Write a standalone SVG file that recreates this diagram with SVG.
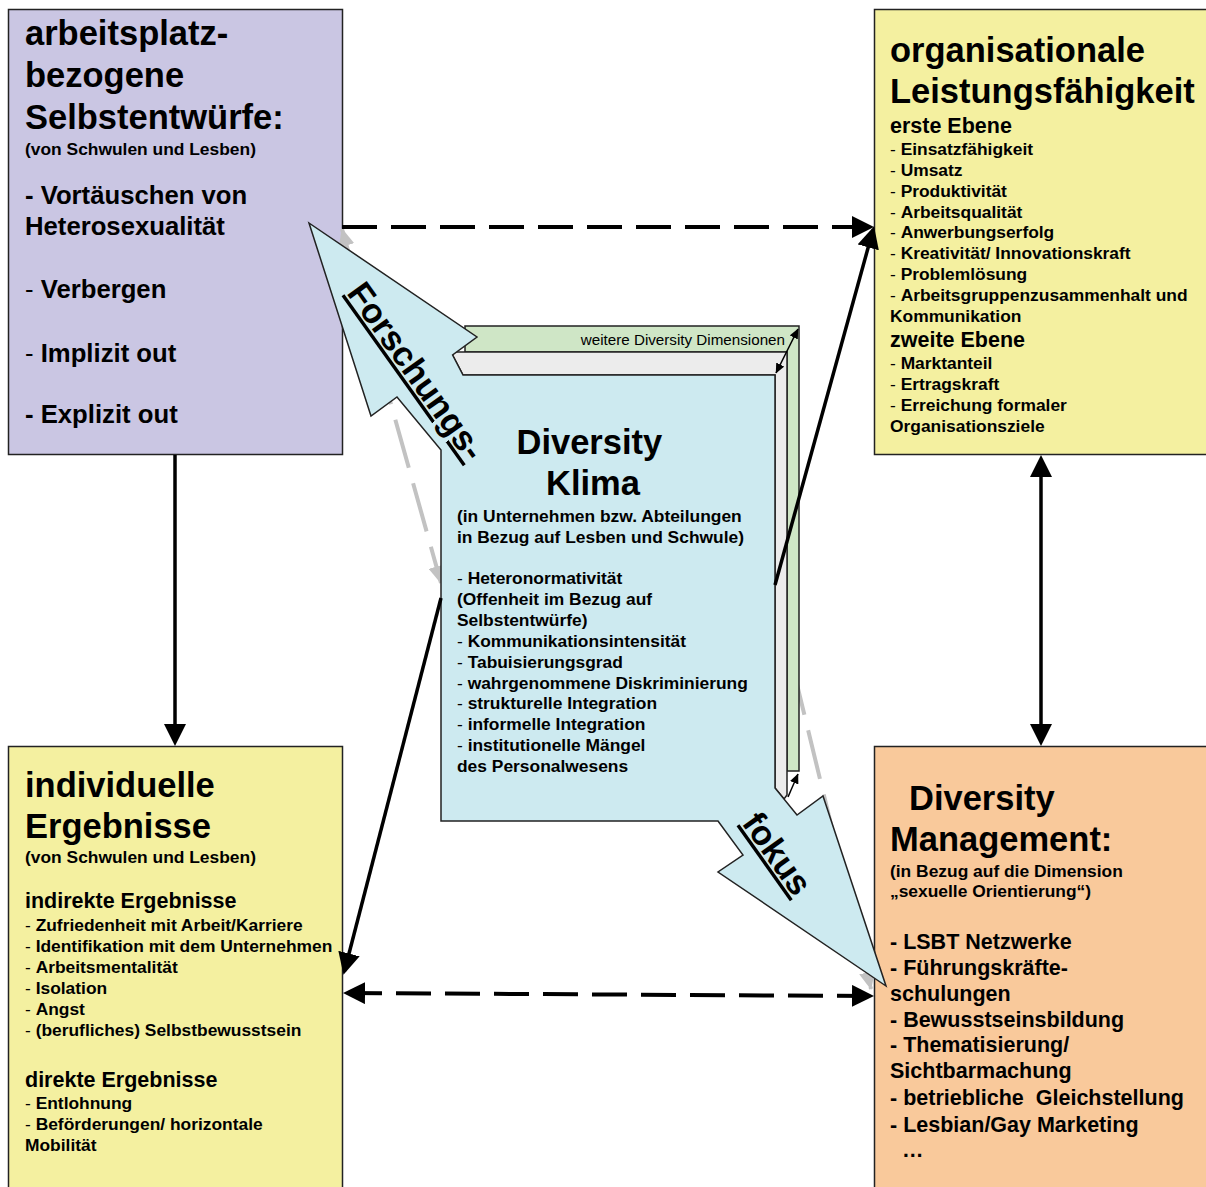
<svg xmlns="http://www.w3.org/2000/svg" width="1206" height="1187" viewBox="0 0 1206 1187">
<defs>
<style>
text{font-family:"Liberation Sans",Arial,Helvetica,sans-serif;font-weight:bold;fill:#000}
.n{font-weight:normal}
.box{stroke:#222;stroke-width:1.5}
.t{font-size:34.5px}
.s{font-size:17.4px}
.m{font-size:21.5px}
.l{font-size:25.7px}
.r{font-size:21.5px}
.w{font-size:15.2px;font-weight:normal}
.conn{fill:none;stroke:#000;stroke-width:3.5}
.dash{stroke-width:4;stroke-dasharray:35 14}
.grey{fill:none;stroke:#c2c2c2;stroke-width:4;stroke-dasharray:50 16}
.thin{fill:none;stroke:#000;stroke-width:1.5}
.rot{font-size:34.5px;text-decoration:underline}
</style>
<marker id="ah" viewBox="0 0 22 22" refX="18" refY="11" markerWidth="22" markerHeight="22" markerUnits="userSpaceOnUse" orient="auto-start-reverse"><path d="M0,0 L22,11 L0,22 z" fill="#000"/></marker>
<marker id="ag" viewBox="0 0 18 16" refX="17" refY="8" markerWidth="18" markerHeight="16" markerUnits="userSpaceOnUse" orient="auto-start-reverse"><path d="M0,0 L18,8 L0,16 z" fill="#c2c2c2"/></marker>
<marker id="as" viewBox="0 0 10 9" refX="9.5" refY="4.5" markerWidth="10" markerHeight="9" markerUnits="userSpaceOnUse" orient="auto-start-reverse"><path d="M0,0 L10,4.5 L0,9 z" fill="#000"/></marker>
</defs>
<rect x="0" y="0" width="1206" height="1187" fill="#fff"/>

<g id="node-selbstentwuerfe">
<rect class="box" x="8.5" y="9.5" width="334" height="445" fill="#cac6e3"/>
<text class="t" x="25" y="45">arbeitsplatz-</text>
<text class="t" x="25" y="87">bezogene</text>
<text class="t" x="25" y="129">Selbstentwürfe:</text>
<text class="s" x="25" y="155">(von Schwulen und Lesben)</text>
<text class="l" x="25" y="204">- Vortäuschen von</text>
<text class="l" x="25" y="235">Heterosexualität</text>
<text class="l" x="25" y="298"><tspan class="n">- </tspan>Verbergen</text>
<text class="l" x="25" y="362"><tspan class="n">- </tspan>Implizit out</text>
<text class="l" x="25" y="423">- Explizit out</text>
</g>

<g id="node-leistung">
<rect class="box" x="874.5" y="9.5" width="345" height="445" fill="#f4f0a0"/>
<text class="t" x="890" y="62">organisationale</text>
<text class="t" x="890" y="103">Leistungsfähigkeit</text>
<text class="m" x="890" y="133">erste Ebene</text>
<text class="s" x="890" y="155"><tspan class="n">- </tspan>Einsatzfähigkeit</text>
<text class="s" x="890" y="176"><tspan class="n">- </tspan>Umsatz</text>
<text class="s" x="890" y="197"><tspan class="n">- </tspan>Produktivität</text>
<text class="s" x="890" y="217.5"><tspan class="n">- </tspan>Arbeitsqualität</text>
<text class="s" x="890" y="238"><tspan class="n">- </tspan>Anwerbungserfolg</text>
<text class="s" x="890" y="259"><tspan class="n">- </tspan>Kreativität/ Innovationskraft</text>
<text class="s" x="890" y="280"><tspan class="n">- </tspan>Problemlösung</text>
<text class="s" x="890" y="301"><tspan class="n">- </tspan>Arbeitsgruppenzusammenhalt und</text>
<text class="s" x="890" y="322">Kommunikation</text>
<text class="m" x="890" y="346.5">zweite Ebene</text>
<text class="s" x="890" y="368.5"><tspan class="n">- </tspan>Marktanteil</text>
<text class="s" x="890" y="389.5"><tspan class="n">- </tspan>Ertragskraft</text>
<text class="s" x="890" y="410.5"><tspan class="n">- </tspan>Erreichung formaler</text>
<text class="s" x="890" y="431.5">Organisationsziele</text>
</g>

<g id="node-individuell">
<rect class="box" x="8.5" y="746.5" width="334" height="460" fill="#f4f0a0"/>
<text class="t" x="25" y="797">individuelle</text>
<text class="t" x="25" y="837.5">Ergebnisse</text>
<text class="s" x="25" y="863">(von Schwulen und Lesben)</text>
<text class="m" x="25" y="908">indirekte Ergebnisse</text>
<text class="s" x="25" y="930.5"><tspan class="n">- </tspan>Zufriedenheit mit Arbeit/Karriere</text>
<text class="s" x="25" y="951.5"><tspan class="n">- </tspan>Identifikation mit dem Unternehmen</text>
<text class="s" x="25" y="972.5"><tspan class="n">- </tspan>Arbeitsmentalität</text>
<text class="s" x="25" y="994"><tspan class="n">- </tspan>Isolation</text>
<text class="s" x="25" y="1015"><tspan class="n">- </tspan>Angst</text>
<text class="s" x="25" y="1036"><tspan class="n">- </tspan>(berufliches) Selbstbewusstsein</text>
<text class="m" x="25" y="1087">direkte Ergebnisse</text>
<text class="s" x="25" y="1109"><tspan class="n">- </tspan>Entlohnung</text>
<text class="s" x="25" y="1130"><tspan class="n">- </tspan>Beförderungen/ horizontale</text>
<text class="s" x="25" y="1151">Mobilität</text>
</g>

<g id="node-management">
<rect class="box" x="874.5" y="746.5" width="345" height="460" fill="#f9c99b"/>
<text class="t" x="909" y="810">Diversity</text>
<text class="t" x="890" y="851">Management:</text>
<text class="s" x="890" y="876.5">(in Bezug auf die Dimension</text>
<text class="s" x="890" y="897">„sexuelle Orientierung“)</text>
<text class="r" x="890" y="948.5">- LSBT Netzwerke</text>
<text class="r" x="890" y="975">- Führungskräfte-</text>
<text class="r" x="890" y="1000.5">schulungen</text>
<text class="r" x="890" y="1026.5">- Bewusstseinsbildung</text>
<text class="r" x="890" y="1052">- Thematisierung/</text>
<text class="r" x="890" y="1078">Sichtbarmachung</text>
<text class="r" x="890" y="1105" style="white-space:pre">- betriebliche  Gleichstellung</text>
<text class="r" x="890" y="1131.5">- Lesbian/Gay Marketing</text>
<text class="r" x="902" y="1157">…</text>
</g>

<g id="connectors-behind">
<line class="grey" x1="342" y1="229" x2="441" y2="583" marker-start="url(#ag)" marker-end="url(#ag)"/>
<line class="grey" x1="777" y1="602" x2="871" y2="989" marker-start="url(#ag)" marker-end="url(#ag)"/>
</g>

<g id="node-klima">
<polygon class="box" points="465,326 799,326 799,771 787,771 787,352 465,352" fill="#cfe6c6"/>
<polygon class="box" points="451,352 787,352 787,795 784,799 775,788 775,375 463,375" fill="#ececec"/>
<polygon class="box" points="309,223 477,337 452.6,355 463,375 775,375 775,788 797,815 823,796 886,986 718,872 743,855 718,821 441,821 441,450 397,397 371,416" fill="#cdeaf0"/>
<text class="w" x="785" y="344.5" text-anchor="end">weitere Diversity Dimensionen</text>
<text class="t" x="516.5" y="453.5">Diversity</text>
<text class="t" x="546" y="495">Klima</text>
<text class="s" x="457" y="521.5">(in Unternehmen bzw. Abteilungen</text>
<text class="s" x="457" y="542.5">in Bezug auf Lesben und Schwule)</text>
<text class="s" x="457" y="584"><tspan class="n">- </tspan>Heteronormativität</text>
<text class="s" x="457" y="605">(Offenheit im Bezug auf</text>
<text class="s" x="457" y="626">Selbstentwürfe)</text>
<text class="s" x="457" y="646.5"><tspan class="n">- </tspan>Kommunikationsintensität</text>
<text class="s" x="457" y="667.5"><tspan class="n">- </tspan>Tabuisierungsgrad</text>
<text class="s" x="457" y="688.5"><tspan class="n">- </tspan>wahrgenommene Diskriminierung</text>
<text class="s" x="457" y="709"><tspan class="n">- </tspan>strukturelle Integration</text>
<text class="s" x="457" y="730"><tspan class="n">- </tspan>informelle Integration</text>
<text class="s" x="457" y="751"><tspan class="n">- </tspan>institutionelle Mängel</text>
<text class="s" x="457" y="772">des Personalwesens</text>
<text class="rot" transform="translate(346,293) rotate(54.5)">Forschungs-</text>
<text class="rot" transform="translate(741,823) rotate(54.6)">fokus</text>
<line class="thin" x1="776" y1="373" x2="798" y2="329" marker-start="url(#as)" marker-end="url(#as)"/>
<line class="thin" x1="788" y1="797" x2="798" y2="774" marker-end="url(#as)"/>
</g>

<g id="connectors">
<line class="conn dash" x1="342" y1="227" x2="870" y2="227" marker-end="url(#ah)"/>
<line class="conn dash" x1="347" y1="993" x2="870" y2="996" marker-start="url(#ah)" marker-end="url(#ah)"/>
<line class="conn" x1="175" y1="455" x2="175" y2="742" marker-end="url(#ah)"/>
<line class="conn" x1="441" y1="598" x2="344.5" y2="971" marker-end="url(#ah)"/>
<line class="conn" x1="775" y1="585" x2="873" y2="230" marker-end="url(#ah)"/>
<line class="conn" x1="1041" y1="459" x2="1041" y2="742" marker-start="url(#ah)" marker-end="url(#ah)"/>
</g>
</svg>
